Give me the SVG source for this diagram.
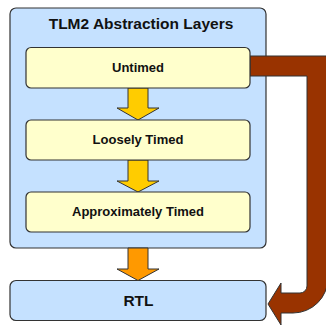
<svg xmlns="http://www.w3.org/2000/svg" width="326" height="326" viewBox="0 0 326 326">
<style>
.box{stroke:#333;stroke-width:1.2}
.blue{fill:#C5E1FF}
.yel{fill:#FFFFCC}
.arr{stroke:#333;stroke-width:1}
text{font-family:"Liberation Sans",Arial,sans-serif;font-weight:bold;fill:#111;text-anchor:middle}
.t13{font-size:13px}
.t15{font-size:15.5px}
</style>
<rect width="326" height="326" fill="#fff"/>
<g id="layers">
<rect class="box blue" x="10" y="8" width="256" height="240" rx="6"/>
<text class="t15" x="141" y="28.5">TLM2 Abstraction Layers</text>
</g>
<g id="rtl">
<rect class="box blue" x="10" y="280.5" width="256" height="40" rx="6"/>
<text class="t15" x="138.5" y="306">RTL</text>
</g>
<g id="connectors">
<path class="arr" fill="#993300" d="M250,56 L328,56 L328,278 A35,35 0 0 1 293,313 L281,313 L281,325 L268,304 L281,283 L281,293 L300,293 A7,7 0 0 0 307,286 L307,76 L250,76 Z"/>
<path class="arr" fill="#FFCC00" d="M128,88 L148,88 L148,108 L159,108 L138,120 L117,108 L128,108 Z"/>
<path class="arr" fill="#FFCC00" d="M128,160 L148,160 L148,181 L159,181 L138,192 L117,181 L128,181 Z"/>
<path class="arr" fill="#FF9900" d="M128,248 L148,248 L148,269 L159,269 L138,280.5 L117,269 L128,269 Z"/>
</g>
<g id="untimed">
<rect class="box yel" x="26" y="47.5" width="224" height="40.5" rx="5"/>
<text class="t13" x="138" y="72">Untimed</text>
</g>
<g id="loosely">
<rect class="box yel" x="26" y="120" width="224" height="40" rx="5"/>
<text class="t13" x="138" y="144">Loosely Timed</text>
</g>
<g id="approx">
<rect class="box yel" x="26" y="192" width="224" height="40" rx="5"/>
<text class="t13" x="138" y="216">Approximately Timed</text>
</g>
</svg>
